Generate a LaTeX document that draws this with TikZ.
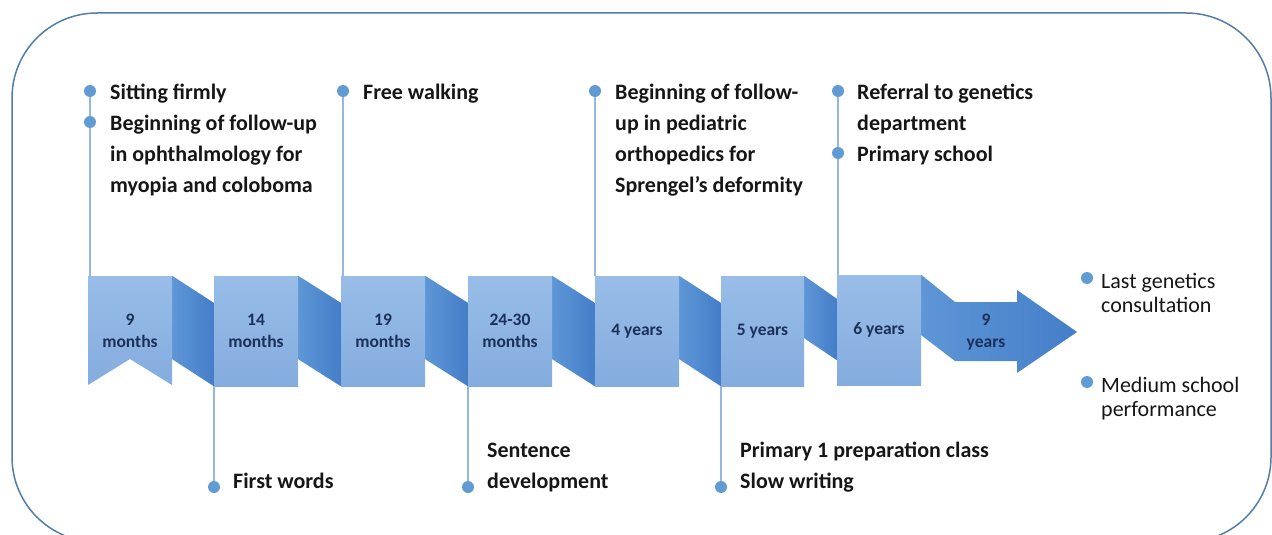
\documentclass[tikz,border=0pt]{standalone}
\usepackage{fontspec}
\setmainfont{Carlito}
\usetikzlibrary{backgrounds}
\definecolor{frameblue}{RGB}{84,124,168}
\definecolor{paneltop}{RGB}{152,189,232}
\definecolor{panelblue}{RGB}{132,172,222}
\definecolor{foldlight}{RGB}{94,150,214}
\definecolor{folddark}{RGB}{68,126,200}
\definecolor{dotblue}{RGB}{96,155,212}
\definecolor{stemblue}{RGB}{150,183,222}
\definecolor{navy}{RGB}{28,48,90}
\definecolor{ink}{RGB}{22,22,22}

\tikzset{
  panel/.style={minimum width=84pt, minimum height=110pt, inner sep=0pt, align=center,
    font=\fontsize{17.5}{22}\selectfont\bfseries, text=navy},
  panelfill/.style={top color=paneltop, bottom color=panelblue},
  fold/.style={left color=foldlight, right color=folddark},
  dot/.style={circle, fill=dotblue, inner sep=0pt, minimum size=12pt},
  stem/.style={stemblue, line width=1.2pt},
  event/.style={anchor=north west, inner sep=0pt, align=left,
    font=\fontsize{22}{31}\selectfont\bfseries, text=ink},
  note/.style={anchor=north west, inner sep=0pt, align=left,
    font=\fontsize{22}{24}\selectfont, text=ink},
}

\begin{document}
\begin{tikzpicture}[x=1pt,y=1pt,yscale=-1]
\clip (0,0) rectangle (1272,535);

% frame
\draw[frameblue, line width=1.5pt, rounded corners=85pt] (12,13) rectangle (1271,542);

% ribbon panels
\path[panelfill] (88,276) -- (172,276) -- (172,385) -- (130,359) -- (88,385) -- cycle;
\node[panel] (p1) at (130,331) {9\\months};
\node[panel, panelfill] (p2) at (256,331) {14\\months};
\node[panel, panelfill] (p3) at (383,331) {19\\months};
\node[panel, panelfill] (p4) at (510,331) {24-30\\months};
\node[panel, panelfill] (p5) at (637,331) {4 years};
\node[panel, panelfill, minimum width=83pt] (p6) at (762.5,331) {5 years};
\node[panel, panelfill] (p7) at (879,330) {6 years};
\node[panel, minimum width=60pt, minimum height=58pt] (p8) at (986,332) {9\\years};

% folds behind the panels
\begin{pgfonlayer}{background}
\foreach \a/\b in {p1/p2,p2/p3,p3/p4,p4/p5,p5/p6}
  \path[fold] (\a.north east) -- ([yshift=27pt]\b.north west) -- (\b.south west)
    -- ([yshift=-27pt]\a.south east) -- cycle;
\path[fold] (p6.north east) -- ([yshift=24pt]p7.north west) -- ([yshift=-25pt]p7.south west)
  -- ([yshift=-48pt]p6.south east) -- cycle;
\path[fold] (p7.north east) -- (955,302) -- (1017,302) -- (1017,290) -- (1077,332)
  -- (1017,373) -- (1017,361) -- (955,361) -- ([yshift=-50pt]p7.south east) -- cycle;
\end{pgfonlayer}

% top events
\node[dot] (d1) at (90,91) {};
\node[dot] (d1b) at (90,122) {};
\node[dot] (d3) at (343,91) {};
\node[dot] (d5) at (595,91) {};
\node[dot] (d7) at (838,91) {};
\node[dot] (d7b) at (838,153) {};
\draw[stem] (d1b) -- (d1b |- p1.north);
\draw[stem] (d1) -- (d1b);
\draw[stem] (d3) -- (d3 |- p3.north);
\draw[stem] (d5) -- (d5 |- p5.north);
\draw[stem] (d7) -- (d7b);
\draw[stem] (d7b) -- (d7b |- p7.north);

\node[event] (e1) at (110,77.9) {\strut Sitting firmly\\Beginning of follow-up\\in ophthalmology for\\myopia and coloboma};
\node[event] (e3) at (363,77.9) {\strut Free walking};
\node[event] (e5) at (615,77.9) {\strut Beginning of follow-\\up in pediatric\\orthopedics for\\Sprengel’s deformity};
\node[event] (e7) at (857,77.9) {\strut Referral to genetics\\department\\Primary school};

% bottom events
\node[dot] (d2) at (214,487) {};
\node[dot] (d4) at (468,487) {};
\node[dot] (d6) at (721,487) {};
\draw[stem] (d2 |- p2.south) -- (d2);
\draw[stem] (d4 |- p4.south) -- (d4);
\draw[stem] (d6 |- p6.south) -- (d6);

\node[event] (e2) at (233,466.3) {\strut First words};
\node[event] (e4) at (487,435.3) {\strut Sentence\\development};
\node[event] (e6) at (740,435.3) {\strut Primary 1 preparation class\\Slow writing};

% after 9 years
\node[dot] (d8) at (1087,278) {};
\node[dot] (d8b) at (1087,382) {};
\node[note] (e8) at (1101,271.2) {\strut Last genetics\\consultation};
\node[note] (e8b) at (1101,375.2) {\strut Medium school\\performance};
\end{tikzpicture}
\end{document}
